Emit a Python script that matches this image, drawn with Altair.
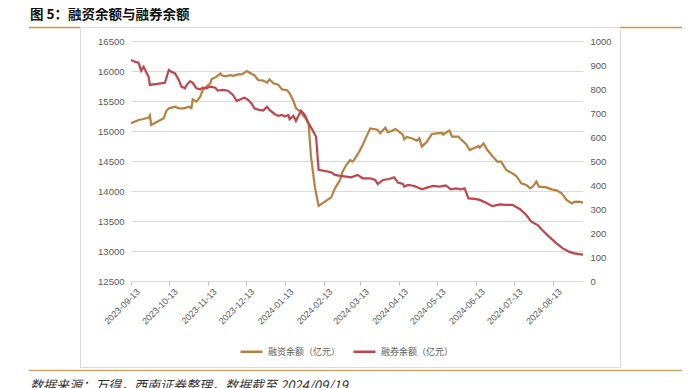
import altair as alt
import pandas as pd

# ---------------- data ----------------
series_names = ["融资余额（亿元）", "融券余额（亿元）"]
series_colors = ["#B8803F", "#C1444B"]
title_text = "图 5：融资余额与融券余额"
source_text = "数据来源：万得，西南证券整理，数据截至 2024/09/19"

x_domain = ["2023-09-13", "2024-09-06"]
x_ticks = ["2023-09-13", "2023-10-13", "2023-11-13", "2023-12-13", "2024-01-13",
           "2024-02-13", "2024-03-13", "2024-04-13", "2024-05-13", "2024-06-13",
           "2024-07-13", "2024-08-13"]
left_ticks = [12500, 13000, 13500, 14000, 14500, 15000, 15500, 16000, 16500]
right_ticks = [0, 100, 200, 300, 400, 500, 600, 700, 800, 900, 1000]

fin_dates = ["2023-09-13", "2023-09-19", "2023-09-23", "2023-09-27", "2023-09-28", "2023-09-29",
             "2023-10-09", "2023-10-11", "2023-10-13", "2023-10-18", "2023-10-21", "2023-10-25", "2023-10-29", "2023-10-31",
             "2023-11-01", "2023-11-04", "2023-11-07", "2023-11-09", "2023-11-12", "2023-11-15", "2023-11-16", "2023-11-20",
             "2023-11-23", "2023-11-24", "2023-11-27",
             "2023-12-01", "2023-12-03", "2023-12-07", "2023-12-10", "2023-12-14", "2023-12-18", "2023-12-20", "2023-12-23",
             "2023-12-27", "2023-12-30",
             "2024-01-01", "2024-01-04", "2024-01-08", "2024-01-11", "2024-01-15", "2024-01-17", "2024-01-20", "2024-01-22",
             "2024-01-25", "2024-01-29",
             "2024-02-01", "2024-02-03", "2024-02-06", "2024-02-09", "2024-02-19", "2024-02-22", "2024-02-26", "2024-02-28",
             "2024-03-02", "2024-03-05", "2024-03-07", "2024-03-09", "2024-03-13", "2024-03-15", "2024-03-18", "2024-03-21",
             "2024-03-25", "2024-03-27", "2024-03-29", "2024-03-31",
             "2024-04-02", "2024-04-04", "2024-04-07", "2024-04-10", "2024-04-13", "2024-04-16", "2024-04-17", "2024-04-19",
             "2024-04-23", "2024-04-27", "2024-04-29",
             "2024-05-01", "2024-05-05", "2024-05-09", "2024-05-13", "2024-05-17", "2024-05-18", "2024-05-20", "2024-05-23",
             "2024-05-25", "2024-05-30",
             "2024-06-01", "2024-06-05", "2024-06-08", "2024-06-12", "2024-06-15", "2024-06-16", "2024-06-19", "2024-06-22",
             "2024-06-26", "2024-06-30",
             "2024-07-03", "2024-07-07", "2024-07-11", "2024-07-15", "2024-07-19", "2024-07-23", "2024-07-26", "2024-07-28",
             "2024-07-31",
             "2024-08-02", "2024-08-08", "2024-08-12", "2024-08-16", "2024-08-20", "2024-08-24", "2024-08-28", "2024-08-30",
             "2024-09-03", "2024-09-06"]
fin_values = [15128, 15183, 15200, 15222, 15260, 15100,
              15211, 15333, 15378, 15405, 15378, 15378, 15405, 15380,
              15528, 15489, 15572, 15683, 15740, 15794, 15861, 15906, 15961, 15930, 15910,
              15930, 15920, 15944, 15944, 16000, 15950, 15930, 15850, 15840, 15806,
              15861, 15794, 15770, 15694, 15680, 15628, 15500, 15380, 15330, 15230,
              15128, 14572, 14072, 13750, 13894, 14044, 14183, 14322,
              14433, 14517, 14490, 14544, 14683, 14767, 14906, 15044, 15030, 15017, 14961, 15010,
              15056, 14978, 15000, 15033, 14990, 14933, 14861, 14900, 14880, 14839, 14878,
              14739, 14820, 14950, 14960, 14970, 14940, 14970, 15006, 14906, 14906,
              14861, 14783, 14683, 14720, 14750, 14720, 14794, 14683, 14583, 14489,
              14489, 14350, 14306, 14250, 14128, 14100, 14044, 14070, 14156,
              14072, 14060, 14028, 14010, 13961, 13850, 13794, 13820,
              13822, 13806]

sec_dates = ["2023-09-13", "2023-09-16", "2023-09-19", "2023-09-20", "2023-09-21", "2023-09-23", "2023-09-25",
             "2023-09-27", "2023-09-28",
             "2023-10-10", "2023-10-13", "2023-10-15", "2023-10-18", "2023-10-21", "2023-10-23", "2023-10-26",
             "2023-10-27", "2023-10-30",
             "2023-11-01", "2023-11-04", "2023-11-07", "2023-11-09", "2023-11-12", "2023-11-15", "2023-11-19",
             "2023-11-21", "2023-11-25", "2023-11-29",
             "2023-12-03", "2023-12-06", "2023-12-08", "2023-12-12", "2023-12-15", "2023-12-18", "2023-12-20",
             "2023-12-23", "2023-12-27", "2023-12-30",
             "2024-01-01", "2024-01-05", "2024-01-08", "2024-01-11", "2024-01-13", "2024-01-16", "2024-01-17",
             "2024-01-20", "2024-01-22", "2024-01-26", "2024-01-29",
             "2024-02-01", "2024-02-03", "2024-02-07", "2024-02-09", "2024-02-19", "2024-02-22", "2024-02-26",
             "2024-03-02", "2024-03-06", "2024-03-11", "2024-03-15", "2024-03-21", "2024-03-25", "2024-03-27",
             "2024-03-31",
             "2024-04-05", "2024-04-09", "2024-04-12", "2024-04-16", "2024-04-17", "2024-04-20", "2024-04-25",
             "2024-05-01", "2024-05-05", "2024-05-10", "2024-05-15", "2024-05-20", "2024-05-24", "2024-05-28",
             "2024-06-01", "2024-06-04", "2024-06-07", "2024-06-12", "2024-06-16", "2024-06-21", "2024-06-26",
             "2024-07-02", "2024-07-07", "2024-07-12", "2024-07-18", "2024-07-23", "2024-07-27",
             "2024-08-01", "2024-08-05", "2024-08-10", "2024-08-16", "2024-08-21", "2024-08-26", "2024-08-30",
             "2024-09-03", "2024-09-06"]
sec_values = [921, 914, 910, 893, 876, 893, 872, 851, 817,
              826, 879, 872, 865, 838, 810, 803, 815, 833,
              826, 803, 799, 806, 803, 810, 805, 793, 796, 793,
              775, 750, 755, 764, 755, 738, 719, 714, 710, 726,
              713, 696, 688, 692, 685, 692, 674, 688, 667, 710, 692,
              657, 640, 601, 463, 453, 442, 438,
              435, 432, 442, 428, 428, 421, 404, 421,
              425, 432, 410, 404, 393, 400, 396,
              382, 389, 396, 393, 398, 382, 386,
              382, 386, 344, 342, 338, 326, 312,
              319, 317, 317, 299, 275, 247,
              233, 210, 185, 157, 136, 122, 115,
              112, 110]

# ---------------- build ----------------
fin_df = pd.DataFrame({"date": fin_dates, "value": fin_values, "series": series_names[0]})
sec_df = pd.DataFrame({"date": sec_dates, "value": sec_values, "series": series_names[1]})
deco_df = pd.DataFrame({"k": [0]})


def dt(s):
    y, m, d = (int(p) for p in s.split("-"))
    return alt.DateTime(year=y, month=m, date=d, utc=True)


LABEL_GRAY = "#595959"
GRID = "#D9D9D9"

x_enc = alt.X(
    "date:T",
    scale=alt.Scale(type="utc", domain=[dt(x_domain[0]), dt(x_domain[1])], nice=False),
    axis=alt.Axis(values=[dt(s) for s in x_ticks],
                  labelExpr="utcFormat(datum.value, '%Y-%m-%d')",
                  labelAngle=-45, title=None, grid=False, ticks=True, tickSize=4,
                  tickColor="#BFBFBF", domainColor=GRID, labelFontSize=9,
                  labelColor=LABEL_GRAY, labelPadding=2, labelOffset=4,
                  labelOverlap=False, labelBound=False, labelFont="Liberation Sans"),
)

color_enc = alt.Color(
    "series:N",
    scale=alt.Scale(domain=series_names, range=series_colors),
    legend=alt.Legend(orient="none", legendX=108, legendY=298, direction="horizontal",
                      title=None, symbolType="stroke", symbolSize=484, symbolStrokeWidth=2.5,
                      labelFont="Noto Sans CJK SC", labelFontSize=9, labelColor=LABEL_GRAY,
                      labelOffset=4, columnPadding=7, padding=0),
)

fin = alt.Chart(fin_df).mark_line(strokeWidth=2.2).encode(
    x=x_enc,
    y=alt.Y("value:Q", scale=alt.Scale(domain=[left_ticks[0], left_ticks[-1]], nice=False),
            axis=alt.Axis(values=left_ticks, format="d", title=None, grid=True, gridColor=GRID,
                          ticks=False, tickSize=0, domain=False, labelPadding=7, labelFontSize=9.5,
                          labelColor=LABEL_GRAY, labelFont="Liberation Sans")),
    color=color_enc,
)

sec = alt.Chart(sec_df).mark_line(strokeWidth=2.2).encode(
    x=x_enc,
    y=alt.Y("value:Q", scale=alt.Scale(domain=[right_ticks[0], right_ticks[-1]], nice=False),
            axis=alt.Axis(orient="right", values=right_ticks, format="d", title=None, grid=False,
                          ticks=False, tickSize=0, domain=False, labelPadding=7, labelFontSize=9.5,
                          labelColor=LABEL_GRAY, labelFont="Liberation Sans")),
    color=color_enc,
)


def hrule(x1, x2, y, color, w=1.0):
    return alt.Chart(deco_df).mark_rule(color=color, strokeWidth=w).encode(
        x=alt.value(x1), x2=alt.value(x2), y=alt.value(y))


def vrule(x, y1, y2, color, w=1.0):
    return alt.Chart(deco_df).mark_rule(color=color, strokeWidth=w).encode(
        x=alt.value(x), y=alt.value(y1), y2=alt.value(y2))


ORANGE = "#D8922F"
TAN = "#C9A66B"
FRAME = "#D9D9D9"

decos = [
    hrule(-102, -51, -13.5, ORANGE, 1.5),
    hrule(-51, 489, -13.5, FRAME, 1),
    hrule(489, 551, -13.5, ORANGE, 1.5),
    vrule(-50.5, -13.5, 326.5, FRAME),
    vrule(489.5, -13.5, 326.5, FRAME),
    hrule(-51, 489, 326.5, FRAME),
    hrule(-102, 551, 329.5, TAN, 1.5),
]

title = alt.Chart(deco_df).mark_text(
    align="left", baseline="middle", font="Noto Sans CJK SC", fontSize=13.5,
    fontWeight="bold", color="#111111").encode(
    x=alt.value(-101), y=alt.value(-26), text=alt.value(title_text))

source = alt.Chart(deco_df).mark_text(
    align="left", baseline="top", font="Noto Sans CJK SC", fontSize=13,
    fontStyle="italic", color="#333333").encode(
    x=alt.value(-101), y=alt.value(339), text=alt.value(source_text))

chart = alt.layer(*decos, title, source, fin, sec).resolve_scale(
    y="independent"
).properties(
    width=452, height=240,
    padding={"left": 123, "top": 33, "right": 103, "bottom": 107},
    autosize=alt.AutoSizeParams(type="none"),
).configure_view(stroke=None)

chart.save("out.html", embed_options={"renderer": "svg", "actions": False})
